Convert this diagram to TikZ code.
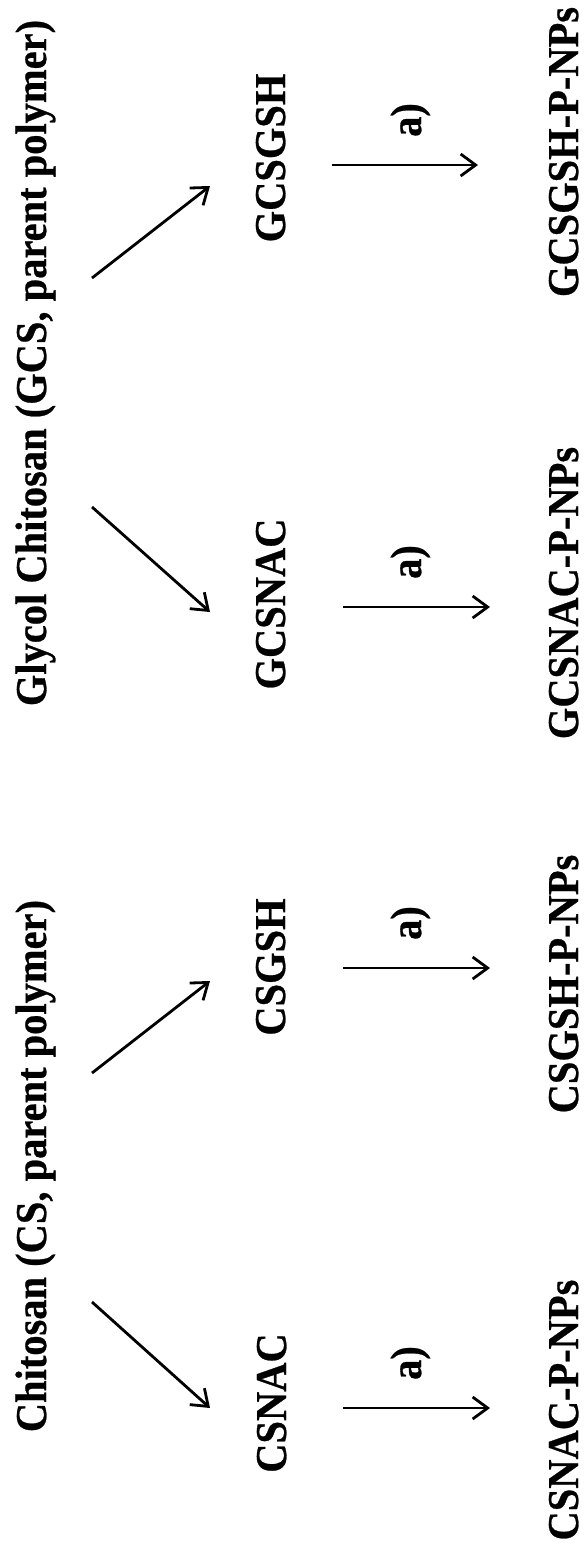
\documentclass[tikz,border=0pt]{standalone}
\usepackage{fontspec}
\setmainfont{Liberation Serif}[BoldFeatures={FakeBold=0.6}]
\usetikzlibrary{arrows.meta}
\newcommand{\mylbl}[1]{\scalebox{0.92}[1]{#1}}
\begin{document}
\begin{tikzpicture}[x=1pt,y=-1pt,
  lbl/.style={rotate=90, anchor=base, inner sep=0pt, font=\fontsize{44}{50}\selectfont\bfseries},
  arr/.style={line width=2.8pt, -{Straight Barb[length=15pt,width=22pt]}}]
\useasboundingbox (0,0) rectangle (587,1551);
% parents
\node[lbl] (gcs) at (46,363) {\mylbl{Glycol Chitosan (GCS, parent polymer)}};
\node[lbl] (cs) at (46,1166) {\mylbl{Chitosan (CS, parent polymer)}};
% intermediates
\node[lbl] (gcsgsh) at (285,158) {\mylbl{GCSGSH}};
\node[lbl] (gcsnac) at (285,604) {\mylbl{GCSNAC}};
\node[lbl] (csgsh) at (285,967) {\mylbl{CSGSH}};
\node[lbl] (csnac) at (286,1403) {\mylbl{CSNAC}};
% products
\node[lbl] (gcsgshp) at (578,152) {\mylbl{GCSGSH-P-NPs}};
\node[lbl] (gcsnacp) at (578,593) {\mylbl{GCSNAC-P-NPs}};
\node[lbl] (csgshp) at (578,984) {\mylbl{CSGSH-P-NPs}};
\node[lbl] (csnacp) at (578,1410) {\mylbl{CSNAC-P-NPs}};
% labels a)
\node[lbl] (la1) at (421,120) {\mylbl{a)}};
\node[lbl] (la2) at (421,562) {\mylbl{a)}};
\node[lbl] (la3) at (421,923) {\mylbl{a)}};
\node[lbl] (la4) at (421,1363) {\mylbl{a)}};
% arrow end points
\coordinate (g1s) at (92,278);  \coordinate (g1e) at (210,186);
\coordinate (g2s) at (92,507);  \coordinate (g2e) at (210,612);
\coordinate (c1s) at (92,1073); \coordinate (c1e) at (210,981);
\coordinate (c2s) at (92,1302); \coordinate (c2e) at (210,1408);
\coordinate (h1s) at (332,165);  \coordinate (h1e) at (478,165);
\coordinate (h2s) at (343,607);  \coordinate (h2e) at (490,607);
\coordinate (h3s) at (343,968);  \coordinate (h3e) at (490,968);
\coordinate (h4s) at (343,1408); \coordinate (h4e) at (490,1408);
\draw[arr] (g1s) -- (g1e);
\draw[arr] (g2s) -- (g2e);
\draw[arr] (c1s) -- (c1e);
\draw[arr] (c2s) -- (c2e);
\draw[arr] (h1s) -- (h1e);
\draw[arr] (h2s) -- (h2e);
\draw[arr] (h3s) -- (h3e);
\draw[arr] (h4s) -- (h4e);
\end{tikzpicture}
\end{document}
